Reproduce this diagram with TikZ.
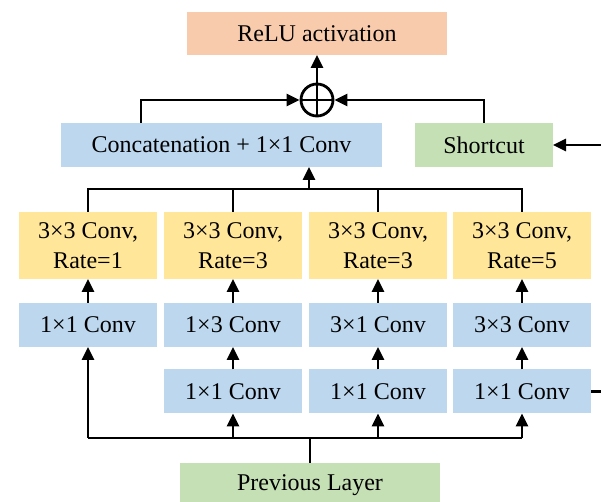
\documentclass[tikz,border=0pt]{standalone}
\usepackage{fontspec}
\setmainfont{Liberation Serif}
\usetikzlibrary{arrows.meta}
\definecolor{cblue}{HTML}{BDD7EE}
\definecolor{cyellow}{HTML}{FFE699}
\definecolor{cgreen}{HTML}{C5E0B4}
\definecolor{corange}{HTML}{F8CBAD}
\begin{document}
\begin{tikzpicture}[x=0.5pt,y=-0.5pt,
  box/.style={inner sep=0pt, outer sep=0pt, font=\fontsize{12}{15}\selectfont, align=center},
  conv/.style={box, fill=cblue, minimum width=69pt, minimum height=22pt},
  dil/.style={box, fill=cyellow, minimum width=69pt, minimum height=33.5pt},
  arr/.style={line width=1.4pt, -{Triangle[length=6.5pt,width=6pt]}},
  ln/.style={line width=1.4pt}]
\useasboundingbox (0,0) rectangle (601,502);

% top
\node[box, fill=corange, minimum width=130pt, minimum height=21.5pt] (relu) at (317,33.5) {ReLU activation};
\node[circle, draw, line width=1.4pt, minimum size=16pt, inner sep=0pt] (plus) at (317,100) {};
\draw[line width=1.4pt] (plus.north) -- (plus.south) (plus.west) -- (plus.east);
\node[box, fill=cblue, minimum width=160.5pt, minimum height=22pt] (concat) at (221.5,145) {Concatenation + 1×1 Conv};
\node[box, fill=cgreen, minimum width=69pt, minimum height=22pt] (short) at (484,145) {Shortcut};

% dilated convs
\node[dil] (y1) at (88,245.5) {3×3 Conv,\\Rate=1};
\node[dil] (y2) at (233,245.5) {3×3 Conv,\\Rate=3};
\node[dil] (y3) at (378,245.5) {3×3 Conv,\\Rate=3};
\node[dil] (y4) at (522,245.5) {3×3 Conv,\\Rate=5};

% first blue row
\node[conv] (b1) at (88,325) {1×1 Conv};
\node[conv] (b2) at (233,325) {1×3 Conv};
\node[conv] (b3) at (378,325) {3×1 Conv};
\node[conv] (b4) at (522,325) {3×3 Conv};

% second blue row
\node[conv] (c2) at (233,391.5) {1×1 Conv};
\node[conv] (c3) at (378,391.5) {1×1 Conv};
\node[conv] (c4) at (522,391.5) {1×1 Conv};

\node[box, fill=cgreen, minimum width=130pt, minimum height=22pt] (prev) at (310,485) {Previous Layer};

% coordinates
\coordinate (cL) at (141,0);
\coordinate (rin) at (601,145);
\coordinate (topbus) at (309,189);
\coordinate (botbus) at (310,438);

% connectors top
\draw[arr] (plus.north) -- (relu.south);
\draw[arr] (concat.north -| cL) |- (plus.west);
\draw[arr] (short.north) |- (plus.east);
\draw[arr] (rin) -- (short.east);

% top bus
\draw[ln] (y1.north) -- (y1.north |- topbus) -- (y4.north |- topbus) -- (y4.north);
\draw[ln] (y2.north) -- (y2.north |- topbus);
\draw[ln] (y3.north) -- (y3.north |- topbus);
\draw[arr] (topbus) -- (topbus |- concat.south);

% vertical arrows
\draw[arr] (b1.north) -- (y1.south);
\draw[arr] (b2.north) -- (y2.south);
\draw[arr] (b3.north) -- (y3.south);
\draw[arr] (b4.north) -- (y4.south);
\draw[arr] (c2.north) -- (b2.south);
\draw[arr] (c3.north) -- (b3.south);
\draw[arr] (c4.north) -- (b4.south);

% bottom bus
\draw[ln] (prev.north) -- (botbus);
\draw[ln] (botbus -| b1.south) -- (botbus -| c4.south);
\draw[arr] (botbus -| b1.south) -- (b1.south);
\draw[arr] (botbus -| c2.south) -- (c2.south);
\draw[arr] (botbus -| c3.south) -- (c3.south);
\draw[arr] (botbus -| c4.south) -- (c4.south);

% short line to the right
\draw[ln] (c4.east) -- (c4.east -| rin);
\end{tikzpicture}
\end{document}
